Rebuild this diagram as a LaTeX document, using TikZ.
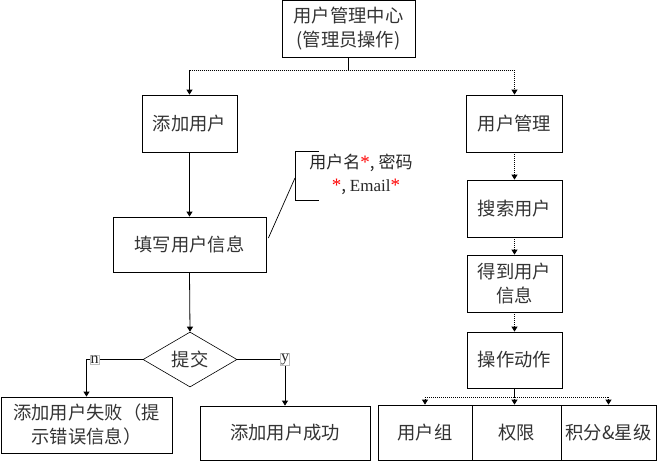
\documentclass[tikz,border=0pt]{standalone}
\usepackage{fontspec}
\setmainfont{Liberation Serif}
\newfontfamily\cjk{Noto Sans CJK SC}
\usetikzlibrary{arrows.meta,shapes.geometric,calc}
\newcommand{\redast}{{\color{red}\fontspec{Liberation Serif}\fontsize{19}{20}\selectfont *}}
\begin{document}
\begin{tikzpicture}[x=1pt,y=-1pt,
  box/.style={draw=black, line width=0.8pt, inner sep=0pt, align=center,
    font=\cjk\fontsize{18.3}{24}\selectfont, text=black!80},
  arr/.style={-{Triangle[width=6pt,length=5pt]}, line width=0.8pt},
  dotln/.style={dash pattern=on 1pt off 1pt, line width=0.8pt},
  lab/.style={draw=black!25, line width=0.4pt, fill=white, inner sep=0.6pt,
    font=\fontsize{16}{18}\selectfont, text=black!85},
  note/.style={inner sep=0pt, font=\cjk\fontsize{17}{20}\selectfont, text=black!85}]
\useasboundingbox (0,0) rectangle (658,464);

\node[box, minimum width=133pt, minimum height=57pt] (top) at (348.5,28.5) {用户管理中心\\(管理员操作)};
\node[box, minimum width=95pt, minimum height=57pt] (add) at (189.5,123.5) {添加用户};
\node[box, minimum width=96pt, minimum height=57pt] (mgr) at (514.5,123.5) {用户管理};
\node[box, minimum width=153pt, minimum height=55pt] (fill) at (189.5,244.5) {填写用户信息};
\node[box, diamond, line width=0.6pt, minimum width=94pt, minimum height=55pt, aspect=1.7] (dia) at (190,359.5) {提交};
\node[box, minimum width=171pt, minimum height=56pt] (fail) at (86.5,425) {添加用户失败（提\\示错误信息）};
\node[box, minimum width=170pt, minimum height=54pt] (succ) at (285,433) {添加用户成功};

\node[box, minimum width=95pt, minimum height=57pt] (search) at (514.5,208.5) {搜索用户};
\node[box, minimum width=95pt, minimum height=57pt] (get) at (514.5,283.5) {得到用户\\信息};
\node[box, minimum width=95pt, minimum height=56pt] (op) at (514.5,360) {操作动作};

\node[box, minimum width=94pt, minimum height=55pt] (g1) at (425,432.5) {用户组};
\node[box, minimum width=89pt, minimum height=55pt] (g2) at (516.5,432.5) {权限};
\node[box, minimum width=95pt, minimum height=55pt] (g3) at (608.5,432.5) {积分\&星级};

% top bus
\draw[line width=0.8pt] (top.south) -- ++(0,13) coordinate (busT);
\draw[dotln] (add.north |- busT) -- (mgr.north |- busT);
\draw[arr] (add.north |- busT) -- (add.north);
\draw[arr, dotln] (mgr.north |- busT) -- (mgr.north);

% left column
\draw[arr] (add.south) -- (fill.north);
\draw[arr] (fill.south) -- (dia.north);
\draw[arr] (dia.west) -| (fail.north);
\draw[arr] (dia.east) -| (succ.north);
\node[lab] (nl) at (94.5,359.5) {n};
\node[lab] (yl) at (285,359.5) {y};

% right column
\draw[arr, dotln] (mgr.south) -- (search.north);
\draw[arr, dotln] (search.south) -- (get.north);
\draw[arr, dotln] (get.south) -- (op.north);

% bottom bus
\draw[line width=0.8pt] (op.south) -- ++(0,9) coordinate (busB);
\draw[dotln] (g1.north |- busB) -- (g3.north |- busB);
\draw[arr, dotln] (g1.north |- busB) -- (g1.north);
\draw[arr, dotln] (op.south |- busB) -- (op.south |- g2.north);
\draw[arr, dotln] (g3.north |- busB) -- (g3.north);

% annotation
\node[note] (n1) at (361,163) {用户名\redast, 密码};
\node[note] (n2) at (366,187) {\redast, {\fontspec{Liberation Serif}Email}\redast};
\coordinate (brTR) at (319,151);
\coordinate (brTL) at (295,151);
\coordinate (brBL) at (295,200);
\coordinate (brBR) at (319,200);
\draw[line width=0.8pt] (brTR) -- (brTL) -- (brBL) -- (brBR);
\draw[line width=0.7pt] ($(brTL)!0.55!(brBL)$) -- ([yshift=6.5pt, xshift=2pt]fill.east);
\end{tikzpicture}
\end{document}
